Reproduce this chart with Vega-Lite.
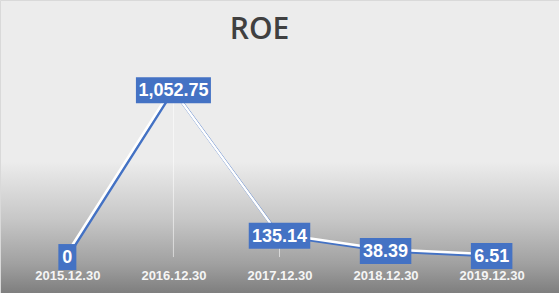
{
  "$schema": "https://vega.github.io/schema/vega-lite/v6.json",
  "width": 559,
  "height": 293,
  "autosize": {"type": "fit", "contains": "padding"},
  "padding": 0,
  "background": "#ececec",
  "title": {"text": "ROE", "fontSize": 30, "font": "Open Sans", "fontWeight": 600, "color": "#404040", "offset": -57, "baseline": "alphabetic", "dx": -20, "dy": 12, "anchor": "middle"},
  "config": {
    "view": {
      "fill": {"gradient": "linear", "x1": 0, "y1": 0, "x2": 0, "y2": 1, "stops": [
        {"offset": 0, "color": "#ececec"},
        {"offset": 0.55, "color": "#ececec"},
        {"offset": 0.75, "color": "#c6c6c6"},
        {"offset": 0.9, "color": "#a0a0a0"},
        {"offset": 1, "color": "#7e7e7e"}
      ]},
      "stroke": "#d9d9d9",
      "strokeWidth": 1
    }
  },
  "data": {"values": [
    {"date": "2015.12.30", "roe": 0},
    {"date": "2016.12.30", "roe": 1052.75},
    {"date": "2017.12.30", "roe": 135.14},
    {"date": "2018.12.30", "roe": 38.39},
    {"date": "2019.12.30", "roe": 6.51}
  ]},
  "transform": [
    {"calculate": "datum.roe === 0 ? '0' : format(datum.roe, ',.2f')", "as": "label"}
  ],
  "encoding": {
    "x": {"field": "date", "type": "ordinal", "sort": null,
      "scale": {"type": "point", "padding": 0.635},
      "axis": {"title": null, "domain": false, "ticks": false, "grid": false, "labelAngle": 0, "labelPadding": -24, "labelFont": "Liberation Sans", "labelFontWeight": "bold", "labelFontSize": 13, "labelColor": "#f5f5f5"}},
    "y": {"field": "roe", "type": "quantitative", "scale": {"domain": [-227, 1623], "nice": false, "zero": false}, "axis": null}
  },
  "layer": [
    {"mark": {"type": "rule", "color": "#ffffff", "strokeWidth": 1, "opacity": 0.55}, "encoding": {"y2": {"datum": 0}}},
    {"mark": {"type": "line", "color": "#4472c4", "strokeWidth": 3}},
    {"mark": {"type": "line", "color": "#ffffff", "strokeWidth": 2.5, "xOffset": -1.5, "yOffset": -1.8}},
    {"mark": {"type": "rect", "color": "#4472c4", "height": 26,
      "width": {"expr": "8 + 10*length(replace(datum.label, regexp('[.,]','g'), '')) + 3.5*(length(datum.label) - length(replace(datum.label, regexp('[.,]','g'), '')))"}}},
    {"mark": {"type": "text", "color": "#ffffff", "font": "Liberation Sans", "fontWeight": "bold", "fontSize": 18, "align": "center", "baseline": "middle", "dy": 1},
      "encoding": {"text": {"field": "label"}}}
  ]
}
